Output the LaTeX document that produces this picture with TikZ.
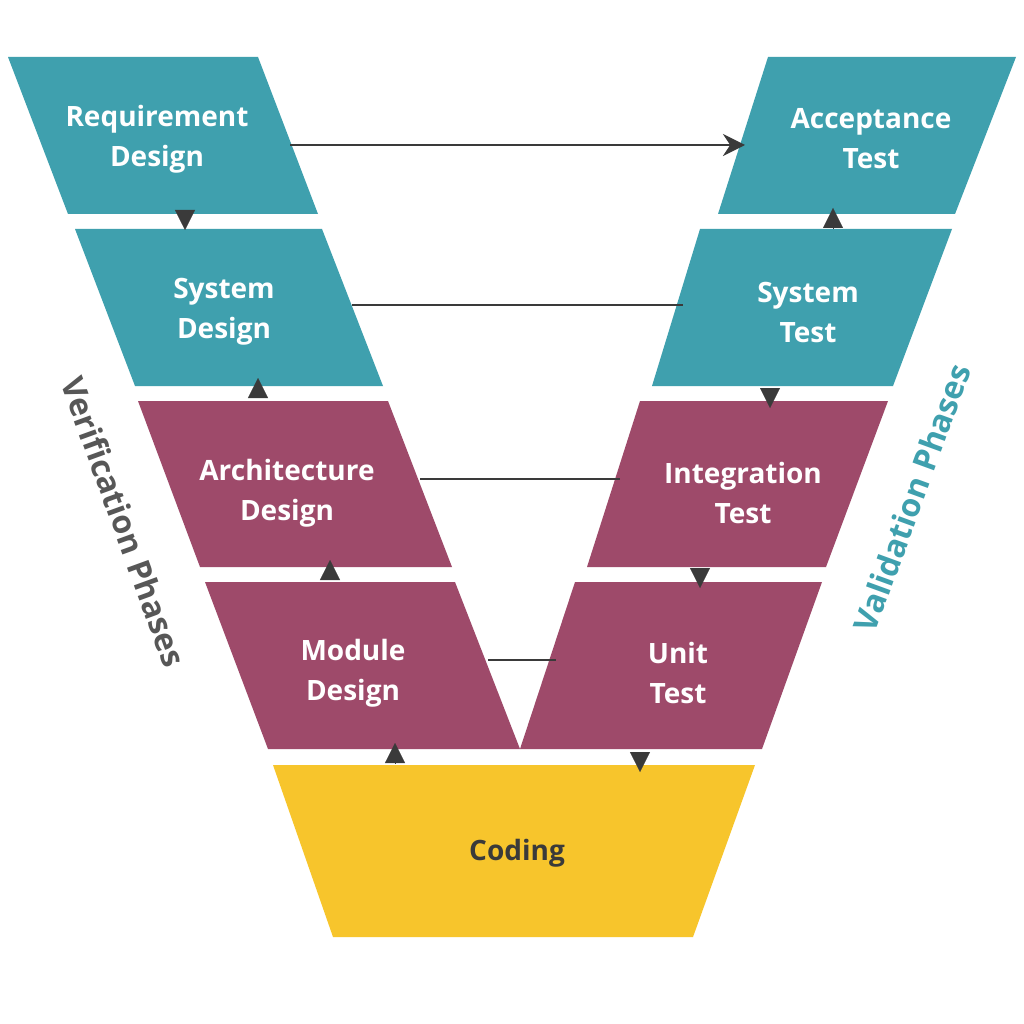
\documentclass[tikz,border=0pt]{standalone}
\usepackage{fontspec}
\setmainfont{Open Sans}
\usetikzlibrary{arrows.meta}
\definecolor{teal1}{HTML}{3FA0AE}
\definecolor{maroon1}{HTML}{9E4A6A}
\definecolor{yell}{HTML}{F7C52C}
\definecolor{dk}{HTML}{3A3A3A}
\tikzset{
  lbl/.style={text=white,font=\fontsize{28}{40}\selectfont\bfseries,align=center},
  link/.style={draw=dk,line width=2.8pt},
  tipm/.style={-{Triangle[length=20pt,width=20pt]},draw=dk,fill=dk,line width=0.1pt},
  side/.style={font=\fontsize{32}{38}\selectfont\bfseries}
}
\begin{document}
\begin{tikzpicture}[x=1pt,y=-1pt]
\useasboundingbox (0,0) rectangle (1024,1024);
\fill[white] (0,0) rectangle (1024,1024);
% left
\fill[teal1] (8,57)--(258,57)--(318,214)--(68,214)--cycle;
\fill[teal1] (75,229)--(322,229)--(383,386)--(135,386)--cycle;
\fill[maroon1] (138,401)--(388,401)--(452,567)--(200,567)--cycle;
\fill[maroon1] (205,582)--(455,582)--(520,749)--(268,749)--cycle;
% right
\fill[teal1] (768,57)--(1016,57)--(955,214)--(718,214)--cycle;
\fill[teal1] (700,229)--(952,229)--(893,386)--(652,386)--cycle;
\fill[maroon1] (640,401)--(888,401)--(826,567)--(587,567)--cycle;
\fill[maroon1] (575,582)--(822,582)--(762,749)--(520,749)--cycle;
% coding
\fill[yell] (273,765)--(755,765)--(693,937)--(333,937)--cycle;

\node[lbl] (rd) at (157,139) {Requirement\\Design};
\node[lbl] (sd) at (224,312) {System\\Design};
\node[lbl] (ad) at (287,493) {Architecture\\Design};
\node[lbl] (md) at (353,673) {Module\\Design};
\node[lbl] (at) at (871,139) {Acceptance\\Test};
\node[lbl] (st) at (808,312) {System\\Test};
\node[lbl] (it) at (743,493) {Integration\\Test};
\node[lbl] (ut) at (678,673) {Unit\\Test};
\node[lbl,text=dk] (cd) at (517,853) {Coding};

\coordinate (l1a) at (290,145); \coordinate (l1b) at (745,145);
\coordinate (l2a) at (352,305); \coordinate (l2b) at (683,305);
\coordinate (l3a) at (420,479); \coordinate (l3b) at (620,479);
\coordinate (l4a) at (488,660); \coordinate (l4b) at (556,660);
\draw[link,-{Stealth[length=22pt,width=22pt]}] (l1a)--(l1b);
\draw[link] (l2a)--(l2b);
\draw[link] (l3a)--(l3b);
\draw[link] (l4a)--(l4b);

% junction arrowheads
\coordinate (a1s) at (185,200); \coordinate (a1e) at (185,230);
\coordinate (a2s) at (258,408); \coordinate (a2e) at (258,378);
\coordinate (a3s) at (330,590); \coordinate (a3e) at (330,560);
\coordinate (a4s) at (395,775); \coordinate (a4e) at (395,743);
\coordinate (a5s) at (640,740); \coordinate (a5e) at (640,772);
\coordinate (a6s) at (700,558); \coordinate (a6e) at (700,588);
\coordinate (a7s) at (770,378); \coordinate (a7e) at (770,408);
\coordinate (a8s) at (833,240); \coordinate (a8e) at (833,208);
\foreach \i in {1,...,8}{\draw[tipm,shorten <=12pt] (a\i s)--(a\i e);}

\node[side,text=dk!85,rotate=-70] (vp) at (124,522) {Verification Phases};
\node[side,text=teal1,rotate=70] (va) at (912,498) {Validation Phases};
\end{tikzpicture}
\end{document}
